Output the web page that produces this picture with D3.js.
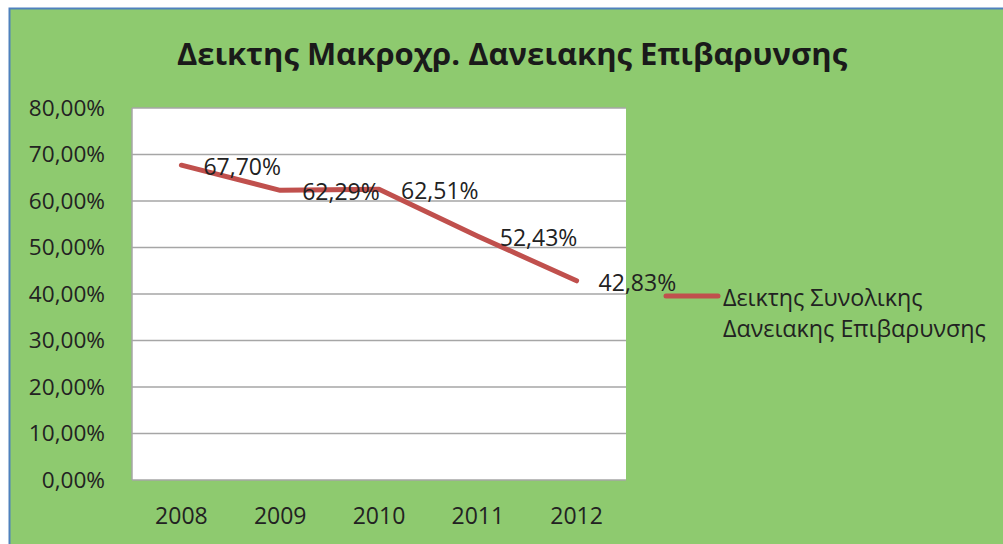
<!DOCTYPE html>
<html>
<head>
<meta charset="utf-8">
<script src="https://cdn.jsdelivr.net/npm/d3@7"></script>
<style>
body { margin: 0; background: #fff; }
svg { display: block; font-family: "Open Sans", sans-serif; }
</style>
</head>
<body>
<script>
var years = ['2008', '2009', '2010', '2011', '2012'];
var values = [67.70, 62.29, 62.51, 52.43, 42.83];
var yTicks = [0, 10, 20, 30, 40, 50, 60, 70, 80];
var title = 'Δεικτης Μακροχρ. Δανειακης Επιβαρυνσης';
var legendLines = ['Δεικτης Συνολικης', 'Δανειακης Επιβαρυνσης'];

var W = 1003, H = 544;
var plot = {left: 132, top: 108, right: 626, bottom: 480};

var svg = d3.select('body')
	.append('svg')
	.attr('width', W)
	.attr('height', H);

// chart background and border
svg.append('rect')
	.attr('x', 9.5).attr('y', 8.5)
	.attr('width', W).attr('height', H)
	.attr('fill', '#8ECA6F')
	.attr('stroke', '#4F81BD')
	.attr('stroke-width', 2);

svg.append('rect')
	.attr('x', plot.left).attr('y', plot.top)
	.attr('width', plot.right - plot.left)
	.attr('height', plot.bottom - plot.top)
	.attr('fill', '#fff');

var x = d3.scalePoint()
	.domain(years)
	.range([plot.left, plot.right])
	.padding(0.5);

var y = d3.scaleLinear()
	.domain([0, 80])
	.range([plot.bottom, plot.top]);

var fmt = function(v) { return v.toFixed(2).replace('.', ',') + '%'; };

// gridlines
svg.selectAll('line.grid')
	.data(yTicks)
	.enter()
	.append('line')
	.attr('class', 'grid')
	.attr('x1', plot.left).attr('x2', plot.right)
	.attr('y1', function(d) { return y(d); })
	.attr('y2', function(d) { return y(d); })
	.attr('stroke', '#A6A6A6')
	.attr('stroke-width', 1.5);

svg.append('line')
	.attr('x1', plot.left).attr('x2', plot.left)
	.attr('y1', plot.top).attr('y2', plot.bottom)
	.attr('stroke', '#A6A6A6')
	.attr('stroke-width', 1.5);

// y axis labels
svg.selectAll('text.ytick')
	.data(yTicks)
	.enter()
	.append('text')
	.attr('class', 'ytick')
	.attr('x', 105)
	.attr('y', function(d) { return y(d); })
	.attr('dy', '0.35em')
	.attr('text-anchor', 'end')
	.attr('font-size', 22.6)
	.attr('fill', '#222')
	.text(function(d) { return fmt(d); });

// x axis labels
svg.selectAll('text.xtick')
	.data(years)
	.enter()
	.append('text')
	.attr('class', 'xtick')
	.attr('x', function(d) { return x(d); })
	.attr('y', 516)
	.attr('dy', '0.35em')
	.attr('text-anchor', 'middle')
	.attr('font-size', 23)
	.attr('fill', '#222')
	.text(function(d) { return d; });

var pts = years.map(function(yr, i) { return {year: yr, value: values[i]}; });

var line = d3.line()
	.x(function(d) { return x(d.year); })
	.y(function(d) { return y(d.value); });

svg.append('path')
	.datum(pts)
	.attr('d', line)
	.attr('fill', 'none')
	.attr('stroke', '#C0504D')
	.attr('stroke-width', 5)
	.attr('stroke-linejoin', 'round')
	.attr('stroke-linecap', 'round');

// data labels
svg.selectAll('text.label')
	.data(pts)
	.enter()
	.append('text')
	.attr('class', 'label')
	.attr('x', function(d) { return x(d.year) + 22; })
	.attr('y', function(d) { return y(d.value) + 2; })
	.attr('dy', '0.35em')
	.attr('font-size', 23)
	.attr('fill', '#222')
	.text(function(d) { return fmt(d.value); });

// title
svg.append('text')
	.attr('x', 512)
	.attr('y', 54)
	.attr('dy', '0.35em')
	.attr('text-anchor', 'middle')
	.attr('font-size', 31)
	.attr('font-weight', 'bold')
	.attr('fill', '#1a1a1a')
	.text(title);

// legend
svg.append('line')
	.attr('x1', 666).attr('x2', 718)
	.attr('y1', 296).attr('y2', 296)
	.attr('stroke', '#C0504D')
	.attr('stroke-width', 5)
	.attr('stroke-linecap', 'round');

svg.selectAll('text.legend')
	.data(legendLines)
	.enter()
	.append('text')
	.attr('class', 'legend')
	.attr('x', 723)
	.attr('y', function(d, i) { return 298 + i * 31; })
	.attr('dy', '0.35em')
	.attr('font-size', 23.3)
	.attr('fill', '#222')
	.text(function(d) { return d; });
</script>
</body>
</html>
